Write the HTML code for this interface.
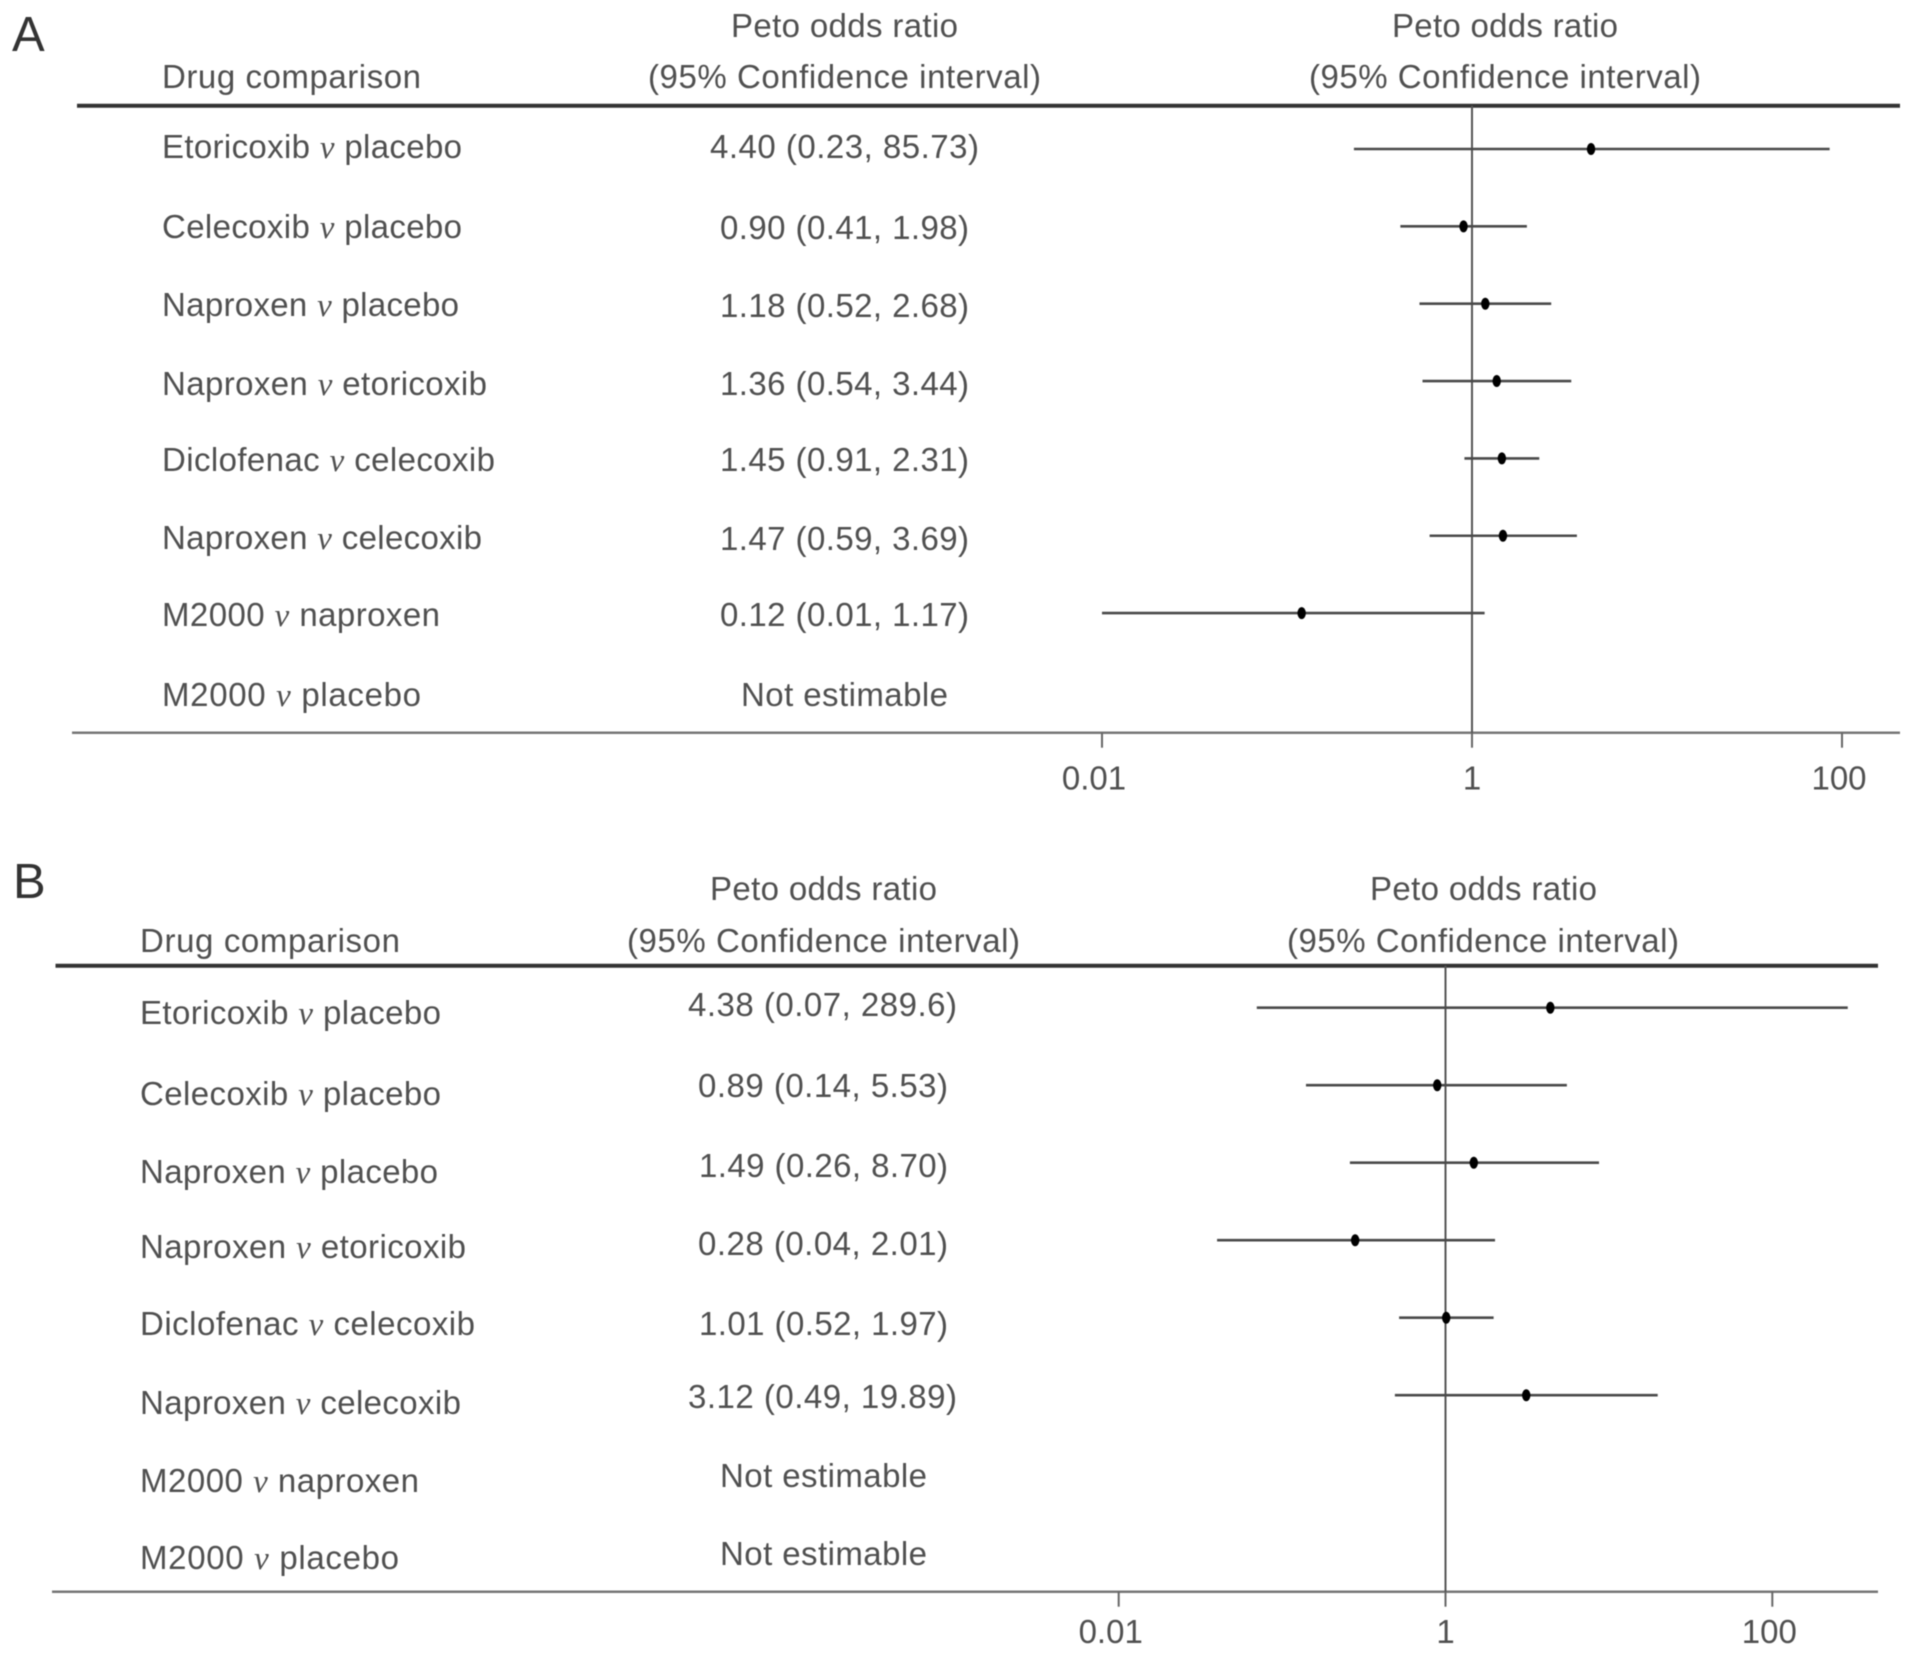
<!DOCTYPE html>
<html lang="en">
<head>
<meta charset="utf-8">
<title>Peto odds ratio forest plots</title>
<style>
html,body{margin:0;padding:0;background:#fff;width:1913px;height:1657px;overflow:hidden}
svg{display:block;filter:blur(0.55px)}
text{font-family:"Liberation Sans",sans-serif;font-size:33px;fill:#505050}
.v{font-family:"Liberation Serif",serif;font-style:italic}
.letter{font-size:49px;fill:#333}
</style>
</head>
<body>
<svg id="chart" xmlns="http://www.w3.org/2000/svg" width="1913" height="1657" viewBox="0 0 1913 1657">
<rect x="0" y="0" width="1913" height="1657" fill="#fff"/>

<g id="panel-a">
<text class="letter" x="12" y="51">A</text>
<text x="731" y="37" textLength="227">Peto odds ratio</text>
<text x="162" y="88" textLength="259">Drug comparison</text>
<text x="648" y="88" textLength="393">(95% Confidence interval)</text>
<text x="1392" y="37" textLength="226">Peto odds ratio</text>
<text x="1309" y="88" textLength="392">(95% Confidence interval)</text>

<text x="162" y="158" textLength="300">Etoricoxib <tspan class="v">v</tspan> placebo</text>
<text x="162" y="238" textLength="300">Celecoxib <tspan class="v">v</tspan> placebo</text>
<text x="162" y="316" textLength="297">Naproxen <tspan class="v">v</tspan> placebo</text>
<text x="162" y="395" textLength="325">Naproxen <tspan class="v">v</tspan> etoricoxib</text>
<text x="162" y="471" textLength="333">Diclofenac <tspan class="v">v</tspan> celecoxib</text>
<text x="162" y="549" textLength="320">Naproxen <tspan class="v">v</tspan> celecoxib</text>
<text x="162" y="626" textLength="278">M2000 <tspan class="v">v</tspan> naproxen</text>
<text x="162" y="706" textLength="259">M2000 <tspan class="v">v</tspan> placebo</text>

<text x="710" y="158" textLength="269">4.40 (0.23, 85.73)</text>
<text x="720" y="239" textLength="249">0.90 (0.41, 1.98)</text>
<text x="720" y="317" textLength="249">1.18 (0.52, 2.68)</text>
<text x="720" y="395" textLength="249">1.36 (0.54, 3.44)</text>
<text x="720" y="471" textLength="249">1.45 (0.91, 2.31)</text>
<text x="720" y="550" textLength="249">1.47 (0.59, 3.69)</text>
<text x="720" y="626" textLength="249">0.12 (0.01, 1.17)</text>
<text x="741" y="706" textLength="207">Not estimable</text>
</g>

<g id="panel-b">
<text class="letter" x="13" y="898">B</text>
<text x="710" y="900" textLength="227">Peto odds ratio</text>
<text x="140" y="952" textLength="260">Drug comparison</text>
<text x="627" y="952" textLength="393">(95% Confidence interval)</text>
<text x="1370" y="900" textLength="227">Peto odds ratio</text>
<text x="1287" y="952" textLength="392">(95% Confidence interval)</text>

<text x="140" y="1024" textLength="301">Etoricoxib <tspan class="v">v</tspan> placebo</text>
<text x="140" y="1105" textLength="301">Celecoxib <tspan class="v">v</tspan> placebo</text>
<text x="140" y="1183" textLength="298">Naproxen <tspan class="v">v</tspan> placebo</text>
<text x="140" y="1258" textLength="326">Naproxen <tspan class="v">v</tspan> etoricoxib</text>
<text x="140" y="1335" textLength="335">Diclofenac <tspan class="v">v</tspan> celecoxib</text>
<text x="140" y="1414" textLength="321">Naproxen <tspan class="v">v</tspan> celecoxib</text>
<text x="140" y="1492" textLength="279">M2000 <tspan class="v">v</tspan> naproxen</text>
<text x="140" y="1569" textLength="259">M2000 <tspan class="v">v</tspan> placebo</text>

<text x="688" y="1016" textLength="269">4.38 (0.07, 289.6)</text>
<text x="698" y="1097" textLength="250">0.89 (0.14, 5.53)</text>
<text x="699" y="1177" textLength="249">1.49 (0.26, 8.70)</text>
<text x="698" y="1255" textLength="250">0.28 (0.04, 2.01)</text>
<text x="699" y="1335" textLength="249">1.01 (0.52, 1.97)</text>
<text x="688" y="1408" textLength="269">3.12 (0.49, 19.89)</text>
<text x="720" y="1487" textLength="207">Not estimable</text>
<text x="720" y="1565" textLength="207">Not estimable</text>
</g>
</svg>

<script>
var rowNames = ['etoricoxib-placebo','celecoxib-placebo','naproxen-placebo','naproxen-etoricoxib','diclofenac-celecoxib','naproxen-celecoxib','m2000-naproxen','m2000-placebo'];
var oddsRatioA = [4.40, 0.90, 1.18, 1.36, 1.45, 1.47, 0.12, null];
var lowerCiA = [0.23, 0.41, 0.52, 0.54, 0.91, 0.59, 0.01, null];
var upperCiA = [85.73, 1.98, 2.68, 3.44, 2.31, 3.69, 1.17, null];
var oddsRatioB = [4.38, 0.89, 1.49, 0.28, 1.01, 3.12, null, null];
var lowerCiB = [0.07, 0.14, 0.26, 0.04, 0.52, 0.49, null, null];
var upperCiB = [289.6, 5.53, 8.70, 2.01, 1.97, 19.89, null, null];
var tickValues = [0.01, 1, 100];
var tickLabels = ['0.01', '1', '100'];

var NS = 'http://www.w3.org/2000/svg';

function makeLine(parent, x1, y1, x2, y2, color, width) {
  var el = document.createElementNS(NS, 'line');
  el.setAttribute('x1', x1);
  el.setAttribute('y1', y1);
  el.setAttribute('x2', x2);
  el.setAttribute('y2', y2);
  el.setAttribute('stroke', color);
  el.setAttribute('stroke-width', width);
  parent.appendChild(el);
  return el;
}

function drawPanel(cfg) {
  var g = document.getElementById(cfg.id);
  function xScale(v) { return cfg.x1 + cfg.decade * Math.log10(v); }
  function yScale(i) { return cfg.rowTop + cfg.rowStep * i; }

  var rule = makeLine(g, cfg.ruleLeft, cfg.ruleY, cfg.right, cfg.ruleY, '#333', 4);
  
  

  var axis = makeLine(g, cfg.axisLeft, cfg.axisY, cfg.right, cfg.axisY, '#777', 2.5);
  
  

  var ref = makeLine(g, xScale(1), cfg.ruleY, xScale(1), cfg.axisY + 14, '#555', 2);
  
  

  tickValues.forEach(function (t, i) {
    var tick = makeLine(g, xScale(t), cfg.axisY, xScale(t), cfg.axisY + 15, '#666', 2);
    
    

    var label = document.createElementNS(NS, 'text');
    label.textContent = tickLabels[i];
    label.setAttribute('x', xScale(t) + (t < 1 ? -8 : (t > 1 ? -3 : 0)));
    label.setAttribute('y', cfg.axisY + cfg.labelDrop);
    label.setAttribute('text-anchor', 'middle');
    
    
    g.appendChild(label);
  });

  cfg.or.forEach(function (v, i) {
    if (v === null) { return; }
    var y = yScale(i);
    var ci = makeLine(g, xScale(cfg.lo[i]), y, xScale(cfg.hi[i]), y, '#4a4a4a', 2.6);
    
    

    var pt = document.createElementNS(NS, 'ellipse');
    pt.setAttribute('cx', xScale(v));
    pt.setAttribute('cy', y);
    pt.setAttribute('rx', 4.2);
    pt.setAttribute('ry', 6);
    pt.setAttribute('fill', '#000');
    
    
    g.appendChild(pt);
  });
}

drawPanel({id: 'panel-a', x1: 1472, decade: 185, rowTop: 149, rowStep: 77.35, ruleLeft: 77, ruleY: 105.7, axisLeft: 72, axisY: 732.7, labelDrop: 57, right: 1900, or: oddsRatioA, lo: lowerCiA, hi: upperCiA});
drawPanel({id: 'panel-b', x1: 1445.5, decade: 163.4, rowTop: 1007.7, rowStep: 77.5, ruleLeft: 55.5, ruleY: 965.7, axisLeft: 52, axisY: 1591.7, labelDrop: 51.5, right: 1878, or: oddsRatioB, lo: lowerCiB, hi: upperCiB});
</script>
</body>
</html>
